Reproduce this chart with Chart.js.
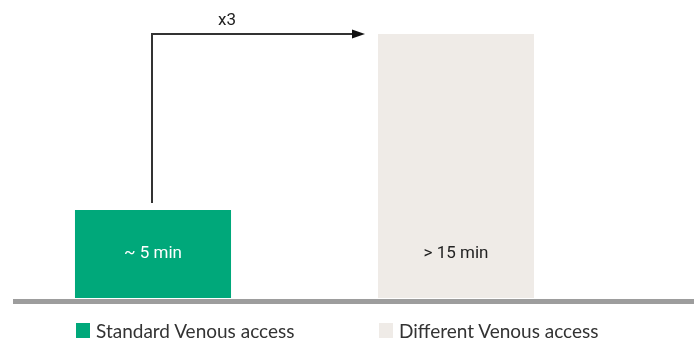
<!DOCTYPE html>
<html>
<head>
<meta charset="utf-8">
<script src="https://cdn.jsdelivr.net/npm/chart.js@4/dist/chart.umd.min.js"></script>
<style>
  html, body { margin: 0; padding: 0; background: #fff; }
  #wrap { position: relative; width: 699px; height: 344px; }
  #chart { position: absolute; left: 0; top: 0; }
  .legend-item { position: absolute; top: 319px; display: flex; align-items: center;
    font-family: Lato, "Open Sans", sans-serif; font-size: 19px; color: #333; white-space: nowrap; }
  .legend-item .sw { width: 14px; height: 15px; margin-right: 6px; }
</style>
</head>
<body>
<div id="wrap">
  <canvas id="chart" width="699" height="344"></canvas>
  <div id="legend"></div>
</div>
<script>
// Access time per venous access type (minutes)
const categories = ['Standard Venous access', 'Different Venous access'];
const minutes = [5, 15];
const valueLabels = ['~ 5 min', '> 15 min'];
const ratioLabel = 'x3';

const barColors = ['#00A87A', '#EFEBE7'];
const labelColors = ['#ffffff', '#222222'];

// Thick grey baseline under the bars
const baselinePlugin = {
  id: 'baseline',
  afterDatasetsDraw(chart) {
    const ctx = chart.ctx;
    const y = chart.chartArea.bottom + 1;
    ctx.save();
    ctx.fillStyle = '#9D9D9D';
    ctx.fillRect(13, y, 694 - 13, 5);
    ctx.restore();
  }
};

// Value text inside each bar
const barTextPlugin = {
  id: 'barText',
  afterDatasetsDraw(chart) {
    const ctx = chart.ctx;
    const bars = chart.getDatasetMeta(0).data;
    const yText = chart.chartArea.bottom - 40;
    ctx.save();
    ctx.font = '17px Roboto, sans-serif';
    ctx.textAlign = 'center';
    ctx.textBaseline = 'alphabetic';
    bars.forEach((bar, i) => {
      ctx.fillStyle = labelColors[i];
      ctx.fillText(valueLabels[i], bar.x, yText);
    });
    ctx.restore();
  }
};

// Elbow arrow from the short bar to the tall bar, with the ratio label
const ratioArrowPlugin = {
  id: 'ratioArrow',
  afterDatasetsDraw(chart) {
    const ctx = chart.ctx;
    const bars = chart.getDatasetMeta(0).data;
    const yScale = chart.scales.y;
    const from = bars[0];
    const to = bars[1];
    const xStart = from.x - 1;
    const yStart = from.y - 7;
    const yTop = yScale.getPixelForValue(minutes[1]);
    const xTip = to.x - to.width / 2 - 13;
    const headLen = 13;
    ctx.save();
    ctx.strokeStyle = '#333333';
    ctx.fillStyle = '#111111';
    ctx.lineWidth = 2;
    ctx.beginPath();
    ctx.moveTo(xStart, yStart);
    ctx.lineTo(xStart, yTop);
    ctx.lineTo(xTip - headLen + 2, yTop);
    ctx.stroke();
    ctx.beginPath();
    ctx.moveTo(xTip, yTop);
    ctx.lineTo(xTip - headLen, yTop - 4.5);
    ctx.lineTo(xTip - headLen, yTop + 4.5);
    ctx.closePath();
    ctx.fill();
    ctx.font = '17px Roboto, sans-serif';
    ctx.fillStyle = '#222222';
    ctx.textAlign = 'center';
    ctx.textBaseline = 'alphabetic';
    ctx.fillText(ratioLabel, from.x + from.width / 2 - 4, yTop - 9);
    ctx.restore();
  }
};

const chart = new Chart(document.getElementById('chart'), {
  type: 'bar',
  data: {
    labels: categories,
    datasets: [{
      data: minutes,
      backgroundColor: barColors,
      borderWidth: 0,
      categoryPercentage: 1,
      barPercentage: 0.515
    }]
  },
  options: {
    responsive: false,
    animation: false,
    layout: { padding: { left: 1.5, right: 91.5, top: 34, bottom: 46 } },
    plugins: { legend: { display: false }, tooltip: { enabled: false } },
    scales: {
      x: { display: false },
      y: { display: false, min: 0, max: 15 }
    }
  },
  plugins: [baselinePlugin, barTextPlugin, ratioArrowPlugin]
});

// Legend built from the categories, each entry aligned with its bar
const legendEl = document.getElementById('legend');
chart.getDatasetMeta(0).data.forEach((bar, i) => {
  const item = document.createElement('div');
  item.className = 'legend-item';
  item.style.left = Math.round(bar.x - bar.width / 2 + 1) + 'px';
  const sw = document.createElement('span');
  sw.className = 'sw';
  sw.style.background = barColors[i];
  const txt = document.createElement('span');
  txt.textContent = categories[i];
  item.appendChild(sw);
  item.appendChild(txt);
  legendEl.appendChild(item);
});
</script>
</body>
</html>
